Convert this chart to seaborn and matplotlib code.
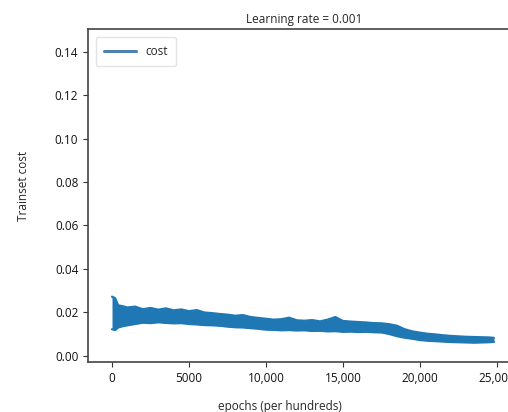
import matplotlib
matplotlib.use("Agg")
import matplotlib.pyplot as plt
import pandas as pd
import seaborn as sns

# epochs (per hundreds) where the band edges were read
epochs = [0, 200, 400, 700, 1000, 1500, 2000, 2500, 3000, 3500, 4000, 4500,
          5000, 5500, 6000, 6500, 7000, 7500, 8000, 8500, 9000, 9500, 10000,
          10500, 11000, 11500, 12000, 12500, 13000, 13500, 14000, 14500, 15000,
          15500, 16000, 16500, 17000, 17500, 18000, 18500, 19000, 19500, 20000,
          20500, 21000, 21500, 22000, 22500, 23000, 23500, 24000, 24500, 24800]

# upper / lower edge of the noisy cost trace
cost_high = [0.0272, 0.0265, 0.0232, 0.0228, 0.0222, 0.0226, 0.0214, 0.0220,
             0.0212, 0.0218, 0.0209, 0.0213, 0.0205, 0.0210, 0.0199, 0.0196,
             0.0192, 0.0189, 0.0184, 0.0187, 0.0178, 0.0174, 0.0170, 0.0166,
             0.0168, 0.0175, 0.0163, 0.0161, 0.0164, 0.0158, 0.0166, 0.0178,
             0.0160, 0.0157, 0.0155, 0.0153, 0.0150, 0.0149, 0.0145, 0.0138,
             0.0122, 0.0112, 0.0106, 0.0101, 0.0098, 0.0094, 0.0091, 0.0089,
             0.0087, 0.0086, 0.0085, 0.0084, 0.0082]
cost_low = [0.0122, 0.0118, 0.0130, 0.0136, 0.0140, 0.0146, 0.0152, 0.0150,
            0.0154, 0.0151, 0.0149, 0.0150, 0.0146, 0.0144, 0.0141, 0.0140,
            0.0138, 0.0134, 0.0131, 0.0130, 0.0127, 0.0124, 0.0120, 0.0119,
            0.0117, 0.0118, 0.0116, 0.0117, 0.0114, 0.0115, 0.0112, 0.0113,
            0.0110, 0.0111, 0.0109, 0.0110, 0.0108, 0.0107, 0.0100, 0.0090,
            0.0083, 0.0078, 0.0072, 0.0069, 0.0067, 0.0065, 0.0063, 0.0062,
            0.0061, 0.0060, 0.0061, 0.0062, 0.0064]

xticks = [0, 5000, 10000, 15000, 20000, 25000]
xtick_labels = ["0", "5000", "10,000", "15,000", "20,000", "25,000"]
yticks = [0.00, 0.02, 0.04, 0.06, 0.08, 0.10, 0.12, 0.14]

df = pd.DataFrame({"epoch": epochs, "high": cost_high, "low": cost_low})

sns.set_style("white")
plt.rcParams["font.family"] = ["Open Sans", "DejaVu Sans"]

fig = plt.figure(figsize=(5.08, 4.12), dpi=100)
ax = fig.add_axes([0.1732, 0.1214, 0.85, 0.8082])

blue = "#1f77b4"
sns.lineplot(data=df, x="epoch", y="high", ax=ax, color=blue, lw=1.6, label="cost")
sns.lineplot(data=df, x="epoch", y="low", ax=ax, color=blue, lw=1.6, legend=False)
ax.fill_between(df["epoch"], df["low"], df["high"], color=blue, lw=0)

# axes run a little past the picture edge, so the right spine is cut off
ax.set_xlim(-1560, 26480)
ax.set_ylim(-0.0029, 0.1505)
ax.set_xticks(xticks)
ax.set_xticklabels(xtick_labels)
ax.set_yticks(yticks)
ax.set_yticklabels([f"{v:.2f}" for v in yticks])
ax.tick_params(axis="both", direction="out", length=3.5, width=0.8,
               labelsize=8.5, colors="#333333", labelcolor="#111111",
               bottom=True, left=True)

for side in ["left", "bottom", "top", "right"]:
    ax.spines[side].set_color("#444444")
    ax.spines[side].set_linewidth(1.2)

ax.set_title("Learning rate = 0.001", fontsize=8.5, pad=4)
ax.set_xlabel("epochs (per hundreds)", fontsize=8.5)
ax.set_ylabel("Trainset cost", fontsize=8.5)
ax.xaxis.set_label_coords(0.445, -0.115)
ax.yaxis.set_label_coords(-0.134, 0.53)

leg = ax.legend(loc="upper left", fontsize=8.5, frameon=True, handlelength=2.7,
                handletextpad=0.8, borderpad=0.7, bbox_to_anchor=(0.005, 0.995))
leg.get_frame().set_edgecolor("#dddddd")
for line in leg.get_lines():
    line.set_color("#4f81a8")
    line.set_linewidth(2.2)

fig.savefig("out.png", dpi=100)
